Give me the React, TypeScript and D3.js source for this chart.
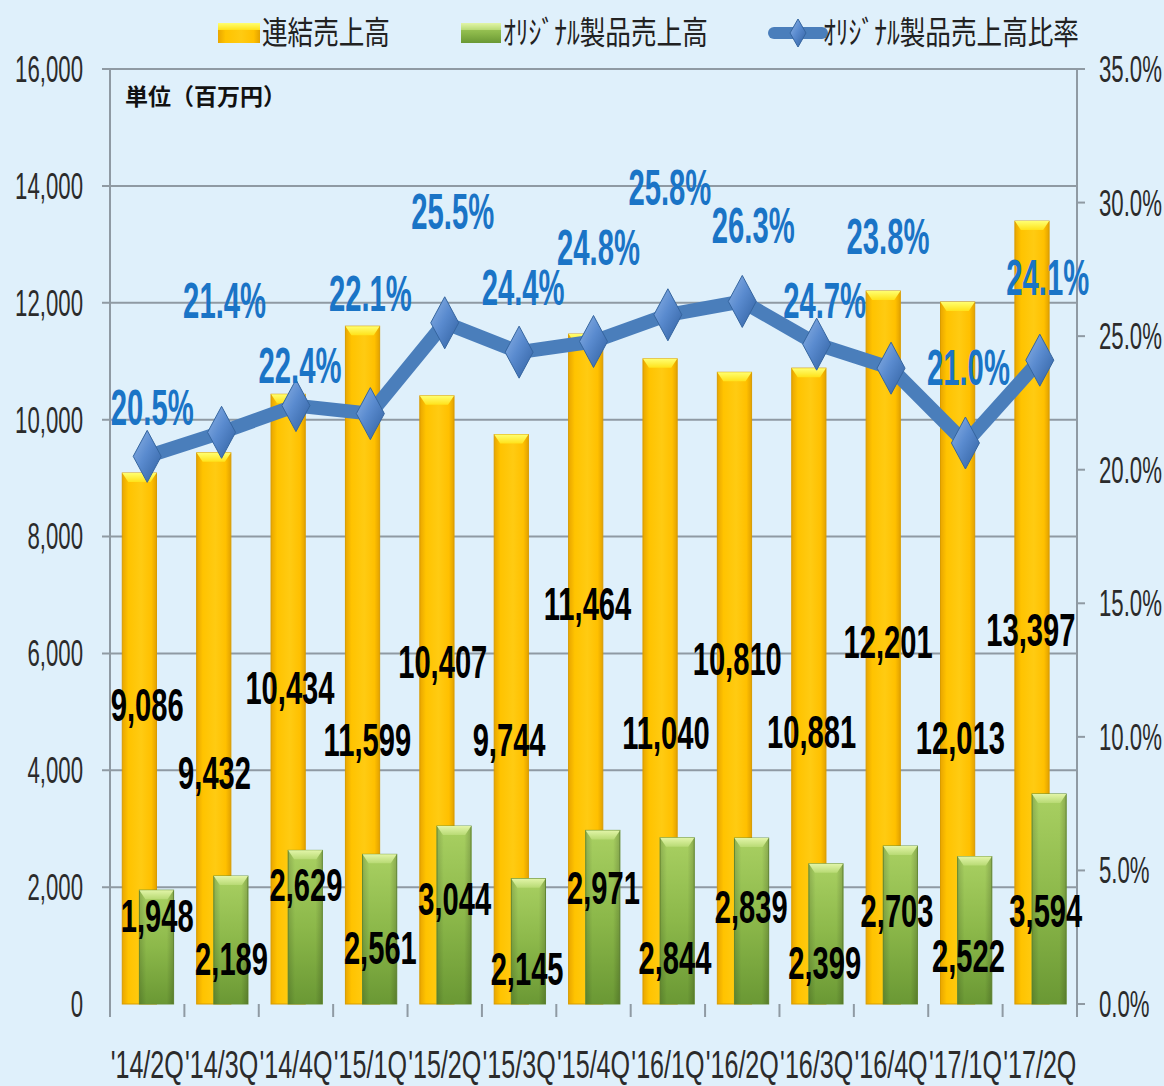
import React from "react";
import * as d3 from "d3";

// quarters on the x axis
const quarters = ["'14/2Q", "'14/3Q", "'14/4Q", "'15/1Q", "'15/2Q", "'15/3Q", "'15/4Q", "'16/1Q", "'16/2Q", "'16/3Q", "'16/4Q", "'17/1Q", "'17/2Q"];

// 連結売上高 (百万円)
const consolidatedSales = [9086, 9432, 10434, 11599, 10407, 9744, 11464, 11040, 10810, 10881, 12201, 12013, 13397];
// オリジナル製品売上高 (百万円)
const originalSales = [1948, 2189, 2629, 2561, 3044, 2145, 2971, 2844, 2839, 2399, 2703, 2522, 3594];
// オリジナル製品売上高比率 (%)
const originalRatio = [20.5, 21.4, 22.4, 22.1, 25.5, 24.4, 24.8, 25.8, 26.3, 24.7, 23.8, 21.0, 24.1];

const leftTicks = [0, 2000, 4000, 6000, 8000, 10000, 12000, 14000, 16000];
const rightTicks = [0, 5, 10, 15, 20, 25, 30, 35];

// where the data labels sit (left-axis units / right-axis units) and their x nudge in px
const salesLabelAt = [5122, 3957, 5413, 4522, 5859, 4522, 6852, 4642, 5910, 4660, 6201, 4557, 6407];
const salesLabelDx = [0, -7, -6, -3, -2, -10, -6, -2, -5, -5, -3, -5, -9];
const origLabelAt = [1507, 771, 2039, 959, 1799, 600, 1987, 788, 1662, 702, 1593, 822, 1593];
const origLabelDx = [10, 10, 10, 10, 10, 8, 10, 7, 9, 8, 6, 3, 6];
const ratioLabelAt = [22.34, 26.35, 23.91, 26.61, 29.68, 26.83, 28.33, 30.58, 29.15, 26.35, 28.74, 23.84, 27.21];
const ratioLabelDx = [5, 3, 4, 0, 8, 4, 5, 2, 11, 8, -3, 3, 8];

const W = 1164;
const H = 1086;
const LATIN = "'Liberation Sans', Arial, sans-serif";
const CJK = "'Noto Sans CJK JP', sans-serif";

const Squeezed = ({ x, y, k, anchor = "middle", size, weight = "normal", fill = "#222", family = LATIN, children }) => (
  <g transform={`translate(${x},${y}) scale(${k},1)`}>
    <text textAnchor={anchor} fontSize={size} fontWeight={weight} fill={fill} fontFamily={family} dy="0.35em">
      {children}
    </text>
  </g>
);

const diamondPts = (cx, cy, hw, hh) =>
  `${cx},${cy - hh} ${cx + hw},${cy} ${cx},${cy + hh} ${cx - hw},${cy}`;

const App = () => {
  const x = d3.scaleBand().domain(quarters).range([110, 1077]).padding(0);
  const yL = d3.scaleLinear().domain([0, 16000]).range([1004, 69]);
  const yR = d3.scaleLinear().domain([0, 35]).range([1004, 69]);
  const bw = x.bandwidth();
  const barW = bw * 0.46;
  const cx = q => x(q) + bw / 2;
  const fmt = d3.format(",");
  const pct = d3.format(".1%");

  const line = d3
    .line()
    .x((d, i) => cx(quarters[i]))
    .y(d => yR(d));

  const bevel = (bx, top, w, h) => {
    const b = Math.min(9, h);
    return `${bx},${top} ${bx + w},${top} ${bx + w - 6},${top + b} ${bx + 6},${top + b}`;
  };

  return (
    <svg width={W} height={H} style={{ position: "absolute", left: 0, top: 0 }}>
      <defs>
        <linearGradient id="gYellow" x1="0" x2="1" y1="0" y2="0">
          <stop offset="0" stopColor="#e9a600" />
          <stop offset="0.18" stopColor="#ffc300" />
          <stop offset="0.55" stopColor="#ffcb12" />
          <stop offset="0.85" stopColor="#ffc000" />
          <stop offset="1" stopColor="#e3a200" />
        </linearGradient>
        <linearGradient id="gYellowTop" x1="0" x2="0" y1="0" y2="1">
          <stop offset="0" stopColor="#ffff70" />
          <stop offset="1" stopColor="#ffe21a" />
        </linearGradient>
        <linearGradient id="gGreen" x1="0" x2="0" y1="0" y2="1">
          <stop offset="0" stopColor="#a9d062" />
          <stop offset="0.5" stopColor="#8cb84a" />
          <stop offset="1" stopColor="#6a9834" />
        </linearGradient>
        <linearGradient id="gGreenSide" x1="0" x2="1" y1="0" y2="0">
          <stop offset="0" stopColor="#000" stopOpacity="0.15" />
          <stop offset="0.2" stopColor="#000" stopOpacity="0" />
          <stop offset="0.8" stopColor="#000" stopOpacity="0" />
          <stop offset="1" stopColor="#000" stopOpacity="0.18" />
        </linearGradient>
        <linearGradient id="gGreenTop" x1="0" x2="0" y1="0" y2="1">
          <stop offset="0" stopColor="#e2f5a8" />
          <stop offset="1" stopColor="#b8da74" />
        </linearGradient>
        <linearGradient id="gDiamond" x1="0" x2="1" y1="0" y2="1">
          <stop offset="0" stopColor="#8fb4e6" />
          <stop offset="0.45" stopColor="#5a8bcf" />
          <stop offset="1" stopColor="#2f5f9f" />
        </linearGradient>
      </defs>

      <rect width={W} height={H} fill="#dff0fb" />

      {/* gridlines */}
      {leftTicks.filter(t => t > 0).map(t => (
        <line key={t} x1={102} x2={1077} y1={yL(t)} y2={yL(t)} stroke="#8f9aa3" strokeWidth={2} />
      ))}

      {/* axes */}
      <line x1={110} x2={110} y1={69} y2={1004} stroke="#8f9aa3" strokeWidth={2} />
      <line x1={1077} x2={1077} y1={69} y2={1004} stroke="#8f9aa3" strokeWidth={2} />
      {rightTicks.map(t => (
        <line key={t} x1={1077} x2={1085} y1={yR(t)} y2={yR(t)} stroke="#8f9aa3" strokeWidth={2} />
      ))}
      {x.domain().map(q => (
        <line key={q} x1={x(q)} x2={x(q)} y1={1004} y2={1017} stroke="#8f9aa3" strokeWidth={2} />
      ))}
      <line x1={1077} x2={1077} y1={1004} y2={1017} stroke="#8f9aa3" strokeWidth={2} />

      {/* tick labels */}
      {leftTicks.map(t => (
        <Squeezed key={t} x={83} y={yL(t)} k={0.6} anchor="end" size={37} fill="#2b2b2b">
          {fmt(t)}
        </Squeezed>
      ))}
      {rightTicks.map(t => (
        <Squeezed key={t} x={1099} y={yR(t)} k={0.6} anchor="start" size={37} fill="#2b2b2b">
          {pct(t / 100)}
        </Squeezed>
      ))}
      {quarters.map(q => (
        <Squeezed key={q} x={cx(q)} y={1065} k={0.66} size={38} fill="#2b2b2b">
          {q}
        </Squeezed>
      ))}

      {/* 連結売上高 bars */}
      {consolidatedSales.map((v, i) => {
        const bx = x(quarters[i]) + bw * 0.165;
        const top = yL(v);
        const h = yL(0) - top;
        return (
          <g key={i}>
            <rect x={bx} y={top} width={barW} height={h} fill="url(#gYellow)" stroke="#d99c00" strokeWidth={1} />
            <polygon points={bevel(bx, top, barW, h)} fill="url(#gYellowTop)" />
          </g>
        );
      })}

      {/* オリジナル製品売上高 bars */}
      {originalSales.map((v, i) => {
        const bx = x(quarters[i]) + bw * 0.165 + barW * 0.5;
        const top = yL(v);
        const h = yL(0) - top;
        return (
          <g key={i}>
            <rect x={bx} y={top} width={barW} height={h} fill="url(#gGreen)" stroke="#6a9236" strokeWidth={1} />
            <rect x={bx} y={top} width={barW} height={h} fill="url(#gGreenSide)" />
            <polygon points={bevel(bx, top, barW, h)} fill="url(#gGreenTop)" />
          </g>
        );
      })}

      {/* bar value labels */}
      {consolidatedSales.map((v, i) => (
        <Squeezed key={i} x={cx(quarters[i]) + salesLabelDx[i]} y={yL(salesLabelAt[i])} k={0.62} size={47} weight="bold" fill="#000">
          {fmt(v)}
        </Squeezed>
      ))}
      {originalSales.map((v, i) => (
        <Squeezed key={i} x={cx(quarters[i]) + origLabelDx[i]} y={yL(origLabelAt[i])} k={0.62} size={47} weight="bold" fill="#000">
          {fmt(v)}
        </Squeezed>
      ))}

      {/* ratio line */}
      <path d={line(originalRatio)} fill="none" stroke="#4a7ebb" strokeWidth={14} strokeLinejoin="round" />
      {originalRatio.map((v, i) => (
        <polygon key={i} points={diamondPts(cx(quarters[i]), yR(v), 14, 26)} fill="url(#gDiamond)" stroke="#35659f" strokeWidth={1} />
      ))}
      {originalRatio.map((v, i) => (
        <Squeezed key={i} x={cx(quarters[i]) + ratioLabelDx[i]} y={yR(ratioLabelAt[i])} k={0.585} size={50} weight="bold" fill="#1a74c6">
          {pct(v / 100)}
        </Squeezed>
      ))}

      {/* unit note */}
      <text x={125} y={105} fontSize={23} fontWeight="bold" fontFamily={CJK} fill="#111">
        単位（百万円）
      </text>

      {/* legend */}
      <rect x={218} y={23} width={42} height={20} fill="url(#gYellow)" />
      <rect x={218} y={23} width={42} height={7} fill="url(#gYellowTop)" />
      <Squeezed x={262} y={33} k={0.8} anchor="start" size={32} family={CJK} fill="#222">
        連結売上高
      </Squeezed>
      <rect x={461} y={23} width={40} height={20} fill="url(#gGreen)" />
      <rect x={461} y={23} width={40} height={7} fill="url(#gGreenTop)" />
      <Squeezed x={503} y={33} k={0.8} anchor="start" size={32} family={CJK} fill="#222">
        ｵﾘｼﾞﾅﾙ製品売上高
      </Squeezed>
      <line x1={774} x2={822} y1={33} y2={33} stroke="#4a7ebb" strokeWidth={12} strokeLinecap="round" />
      <polygon points={diamondPts(798, 33, 8, 14)} fill="url(#gDiamond)" stroke="#35659f" strokeWidth={1} />
      <Squeezed x={823} y={33} k={0.8} anchor="start" size={32} family={CJK} fill="#222">
        ｵﾘｼﾞﾅﾙ製品売上高比率
      </Squeezed>
    </svg>
  );
};

export default App;
